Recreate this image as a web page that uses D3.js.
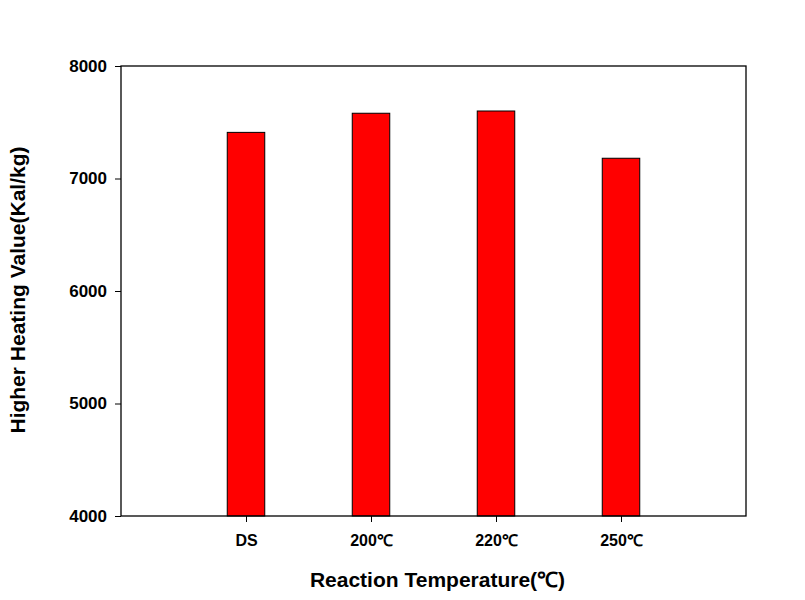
<!DOCTYPE html>
<html><head><meta charset="utf-8">
<script src="https://cdn.jsdelivr.net/npm/d3@7"></script>
<style>body{margin:0;background:#fff}</style>
</head><body>
<svg id="chart" width="805" height="600"></svg>
<script>
const categories = ["DS", "200℃", "220℃", "250℃"];
const positions = [1, 2, 3, 4];
const values = [7410, 7580, 7600, 7180];
const yTicks = [4000, 5000, 6000, 7000, 8000];

(function () {
const svg = d3.select("#chart");
const mLeft = 121, mRight = 746, mTop = 66, mBottom = 516;
const x = d3.scaleLinear().domain([0, 5]).range([mLeft, mRight]);
const y = d3.scaleLinear().domain([4000, 8000]).range([mBottom, mTop]);
const font = "'Liberation Sans', Arial, sans-serif";

svg.append("rect").attr("width", 805).attr("height", 600).attr("fill", "#fff");

const bw = x(0.3) - x(0);
svg.selectAll("rect.bar").data(values).join("rect")
  .attr("class", "bar")
  .attr("x", (d, i) => x(positions[i]) - bw / 2)
  .attr("width", bw)
  .attr("y", d => y(d))
  .attr("height", d => y(4000) - y(d))
  .attr("fill", "#ff0000").attr("stroke", "#000").attr("stroke-width", 1);

svg.append("rect").attr("x", mLeft).attr("y", mTop).attr("width", mRight - mLeft).attr("height", mBottom - mTop)
  .attr("fill", "none").attr("stroke", "#000").attr("stroke-width", 1.3);

const yAxis = svg.append("g").attr("transform", `translate(${mLeft},0)`)
  .call(d3.axisLeft(y).tickValues(yTicks).tickSize(6).tickPadding(8).tickFormat(d3.format("d")));
yAxis.select(".domain").remove();
yAxis.selectAll("text").attr("font-family", font).attr("font-weight", "bold").attr("font-size", 17).attr("fill", "#000");

const xAxis = svg.append("g").attr("transform", `translate(0,${mBottom})`)
  .call(d3.axisBottom(x).tickValues(positions).tickSize(6).tickPadding(13).tickFormat((d, i) => categories[i]));
xAxis.select(".domain").remove();
xAxis.selectAll("text").attr("font-family", font).attr("font-weight", "bold").attr("font-size", 16).attr("fill", "#000");

svg.append("text").attr("x", (mLeft + mRight) / 2 + 4).attr("y", 587).attr("text-anchor", "middle")
  .attr("font-family", font).attr("font-weight", "bold").attr("font-size", 21)
  .text("Reaction Temperature(℃)");

svg.append("text").attr("transform", `translate(25,${(mTop + mBottom) / 2 - 1}) rotate(-90)`).attr("text-anchor", "middle")
  .attr("font-family", font).attr("font-weight", "bold").attr("font-size", 21)
  .text("Higher Heating Value(Kal/kg)");
})();
</script>
</body></html>
